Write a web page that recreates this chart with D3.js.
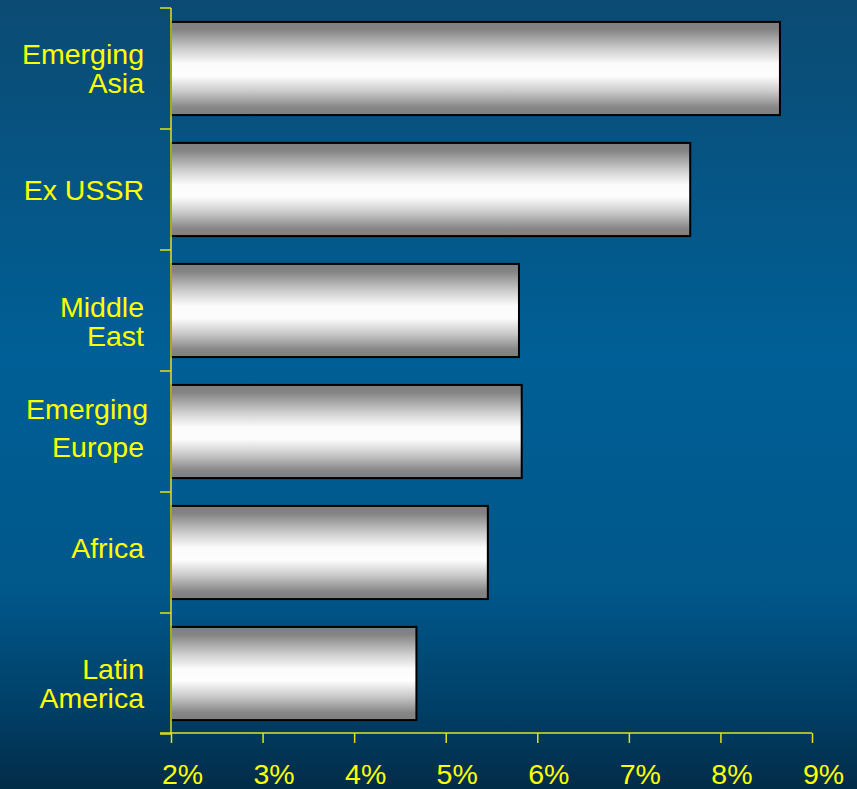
<!DOCTYPE html>
<html>
<head>
<meta charset="utf-8">
<script src="https://cdn.jsdelivr.net/npm/d3@7"></script>
<style>
  html, body { margin: 0; padding: 0; background: #00507e; }
  svg { display: block; font-family: Arial, "Liberation Sans", sans-serif; }
</style>
</head>
<body>
<div id="chart"></div>
<script>
// regions, top to bottom
const regions = ['Emerging Asia', 'Ex USSR', 'Middle East', 'Emerging Europe', 'Africa', 'Latin America'];
const labelLines = [['Emerging', 'Asia'], ['Ex USSR'], ['Middle', 'East'], ['Emerging', 'Europe'], ['Africa'], ['Latin', 'America']];
// growth, percent
const growth = [8.65, 7.67, 5.80, 5.83, 5.46, 4.68];
const xTicks = [2, 3, 4, 5, 6, 7, 8, 9];

const width = 857, height = 789;
const yellow = '#ffff00', axisColor = '#e2e21a';
const fontSize = 28.5;
// small hand nudges for the label blocks, like the original slide
const labelNudge = {'Middle East': 11, 'Latin America': 10, 'Emerging Europe': -4, 'Africa': -5};

const svg = d3.select('#chart').append('svg').attr('width', width).attr('height', height);
const defs = svg.append('defs');

const bg = defs.append('linearGradient').attr('id', 'bg').attr('x1', 0).attr('y1', 0).attr('x2', 0).attr('y2', 1);
[[0, '#0b4b73'], [0.45, '#005f96'], [0.75, '#00578a'], [0.9, '#003f66'], [1, '#022c48']]
  .forEach(s => bg.append('stop').attr('offset', s[0]).attr('stop-color', s[1]));

const barGrad = defs.append('linearGradient').attr('id', 'bar').attr('x1', 0).attr('y1', 0).attr('x2', 0).attr('y2', 1);
[[0, '#7f7f7f'], [0.08, '#838383'], [0.3, '#d0d0d0'], [0.45, '#fbfbfb'], [0.58, '#fdfdfd'], [0.75, '#c8c8c8'], [0.92, '#868686'], [1, '#7f7f7f']]
  .forEach(s => barGrad.append('stop').attr('offset', s[0]).attr('stop-color', s[1]));

svg.append('rect').attr('width', width).attr('height', height).attr('fill', 'url(#bg)');

const x = d3.scaleLinear().domain([2, 9]).range([171, 812]);
const y = d3.scaleBand().domain(regions).range([8, 734]).paddingInner(0.23).paddingOuter(0.115);

// bars
svg.append('g').selectAll('rect').data(regions).enter().append('rect')
  .attr('x', x(2))
  .attr('y', d => y(d))
  .attr('width', (d, i) => x(growth[i]) - x(2))
  .attr('height', y.bandwidth())
  .attr('fill', 'url(#bar)')
  .attr('stroke', '#000')
  .attr('stroke-width', 2);

// y axis: line with ticks at band edges
const yAxis = svg.append('g');
yAxis.append('line').attr('x1', x(2)).attr('x2', x(2)).attr('y1', y.range()[0]).attr('y2', y.range()[1])
  .attr('stroke', axisColor).attr('stroke-width', 1.5);
const edges = regions.map(r => y(r) - y.step() * y.paddingInner() / 2).concat([y.range()[1]]);
edges[0] = y.range()[0];
yAxis.selectAll('line.t').data(edges).enter().append('line').attr('class', 't')
  .attr('x1', x(2) - 11).attr('x2', x(2)).attr('y1', d => d).attr('y2', d => d)
  .attr('stroke', axisColor).attr('stroke-width', 1.5);

// category labels
const lab = svg.append('g').attr('fill', yellow).attr('font-size', fontSize).attr('text-anchor', 'end');
regions.forEach((r, i) => {
  const lines = labelLines[i];
  const gap = r === 'Emerging Europe' ? 38 : 29;
  const c = y(r) + y.bandwidth() / 2 + (labelNudge[r] || 0);
  const first = c + 10 - gap * (lines.length - 1) / 2;
  lines.forEach((t, j) => {
    lab.append('text')
      .attr('x', r === 'Emerging Europe' && j === 0 ? 148 : 144)
      .attr('y', first + j * gap)
      .text(t);
  });
});

// x axis (labels sit a little right of their ticks in the original)
const xAxis = d3.axisBottom(x).tickValues(xTicks).tickFormat(d => d + '%').tickSize(10).tickPadding(21).tickSizeOuter(0);
const gx = svg.append('g').attr('transform', 'translate(0,733)').call(xAxis);
gx.select('.domain').remove();
gx.append('line').attr('x1', 160).attr('x2', x(9)).attr('stroke', axisColor).attr('stroke-width', 1.5);
gx.selectAll('.tick line').attr('stroke', axisColor).attr('stroke-width', 1.5);
gx.selectAll('.tick text').attr('fill', yellow).attr('font-size', fontSize).attr('dx', 11)
  .attr('font-family', 'Arial, "Liberation Sans", sans-serif');
</script>
</body>
</html>
